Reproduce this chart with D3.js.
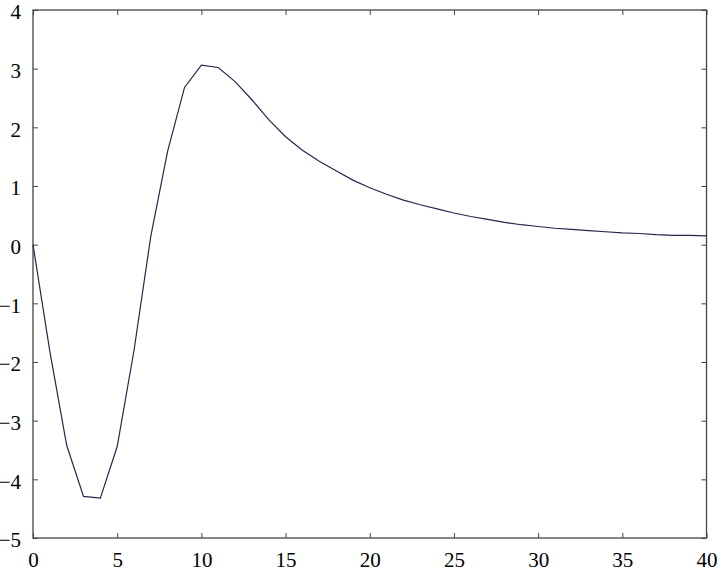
<!DOCTYPE html>
<html><head><meta charset="utf-8">
<script src="https://cdn.jsdelivr.net/npm/d3@7"></script>
<style>
html,body{margin:0;padding:0;background:#fff;}
svg{display:block;}
</style></head>
<body>
<svg id="chart" width="720" height="571"></svg>
<script>
const xValues = [0,1,2,3,4,5,6,7,8,9,10,11,12,13,14,15,16,17,18,19,20,21,22,23,24,25,26,27,28,29,30,31,32,33,34,35,36,37,38,39,40];
const yValues = [0,-1.82,-3.42,-4.29,-4.32,-3.44,-1.80,0.15,1.60,2.68,3.06,3.02,2.78,2.47,2.13,1.84,1.61,1.42,1.26,1.10,0.97,0.86,0.76,0.68,0.61,0.54,0.48,0.43,0.38,0.34,0.31,0.28,0.26,0.24,0.22,0.20,0.19,0.17,0.16,0.16,0.15];
const xTicks = [0,5,10,15,20,25,30,35,40];
const yTicks = [-5,-4,-3,-2,-1,0,1,2,3,4];

const W = 720, H = 571;
const m = {left:33, top:10, right:13.5, bottom:33};
const svg = d3.select("#chart");
const x = d3.scaleLinear().domain([0,40]).range([m.left, W - m.right]);
const y = d3.scaleLinear().domain([-5,4]).range([H - m.bottom, m.top]);
const fmt = d => (d < 0 ? "\u2212" + Math.abs(d) : String(d));
const font = "'Liberation Serif','Times New Roman',serif";

function style(g){
  g.select(".domain").remove();
  g.selectAll(".tick line").attr("stroke","#444").attr("stroke-width",1);
  g.selectAll(".tick text").attr("fill","#000").style("font-family",font).style("font-size","21px");
}

svg.append("g").attr("transform",`translate(0,${y(-5)})`)
  .call(d3.axisBottom(x).tickValues(xTicks).tickSizeInner(-5).tickSizeOuter(0).tickPadding(14).tickFormat(fmt))
  .call(style);
svg.append("g").attr("transform",`translate(0,${y(4)})`)
  .call(d3.axisTop(x).tickValues(xTicks).tickSizeInner(-5).tickSizeOuter(0).tickFormat(""))
  .call(style);
svg.append("g").attr("transform",`translate(${x(0)},0)`)
  .call(d3.axisLeft(y).tickValues(yTicks).tickSizeInner(-5).tickSizeOuter(0).tickPadding(12).tickFormat(fmt))
  .call(style)
  .call(g => g.selectAll(".tick text").attr("dy","0.42em"));
svg.append("g").attr("transform",`translate(${x(40)},0)`)
  .call(d3.axisRight(y).tickValues(yTicks).tickSizeInner(-5).tickSizeOuter(0).tickFormat(""))
  .call(style);

svg.append("rect")
  .attr("x",x(0)).attr("y",y(4))
  .attr("width",x(40)-x(0)).attr("height",y(-5)-y(4))
  .attr("fill","none").attr("stroke","#444").attr("stroke-width",1.3);

const line = d3.line().x((d,i)=>x(xValues[i])).y(d=>y(d));
svg.append("path").datum(yValues)
  .attr("d",line).attr("fill","none").attr("stroke","#26264e").attr("stroke-width",1.2);
</script>
</body></html>
